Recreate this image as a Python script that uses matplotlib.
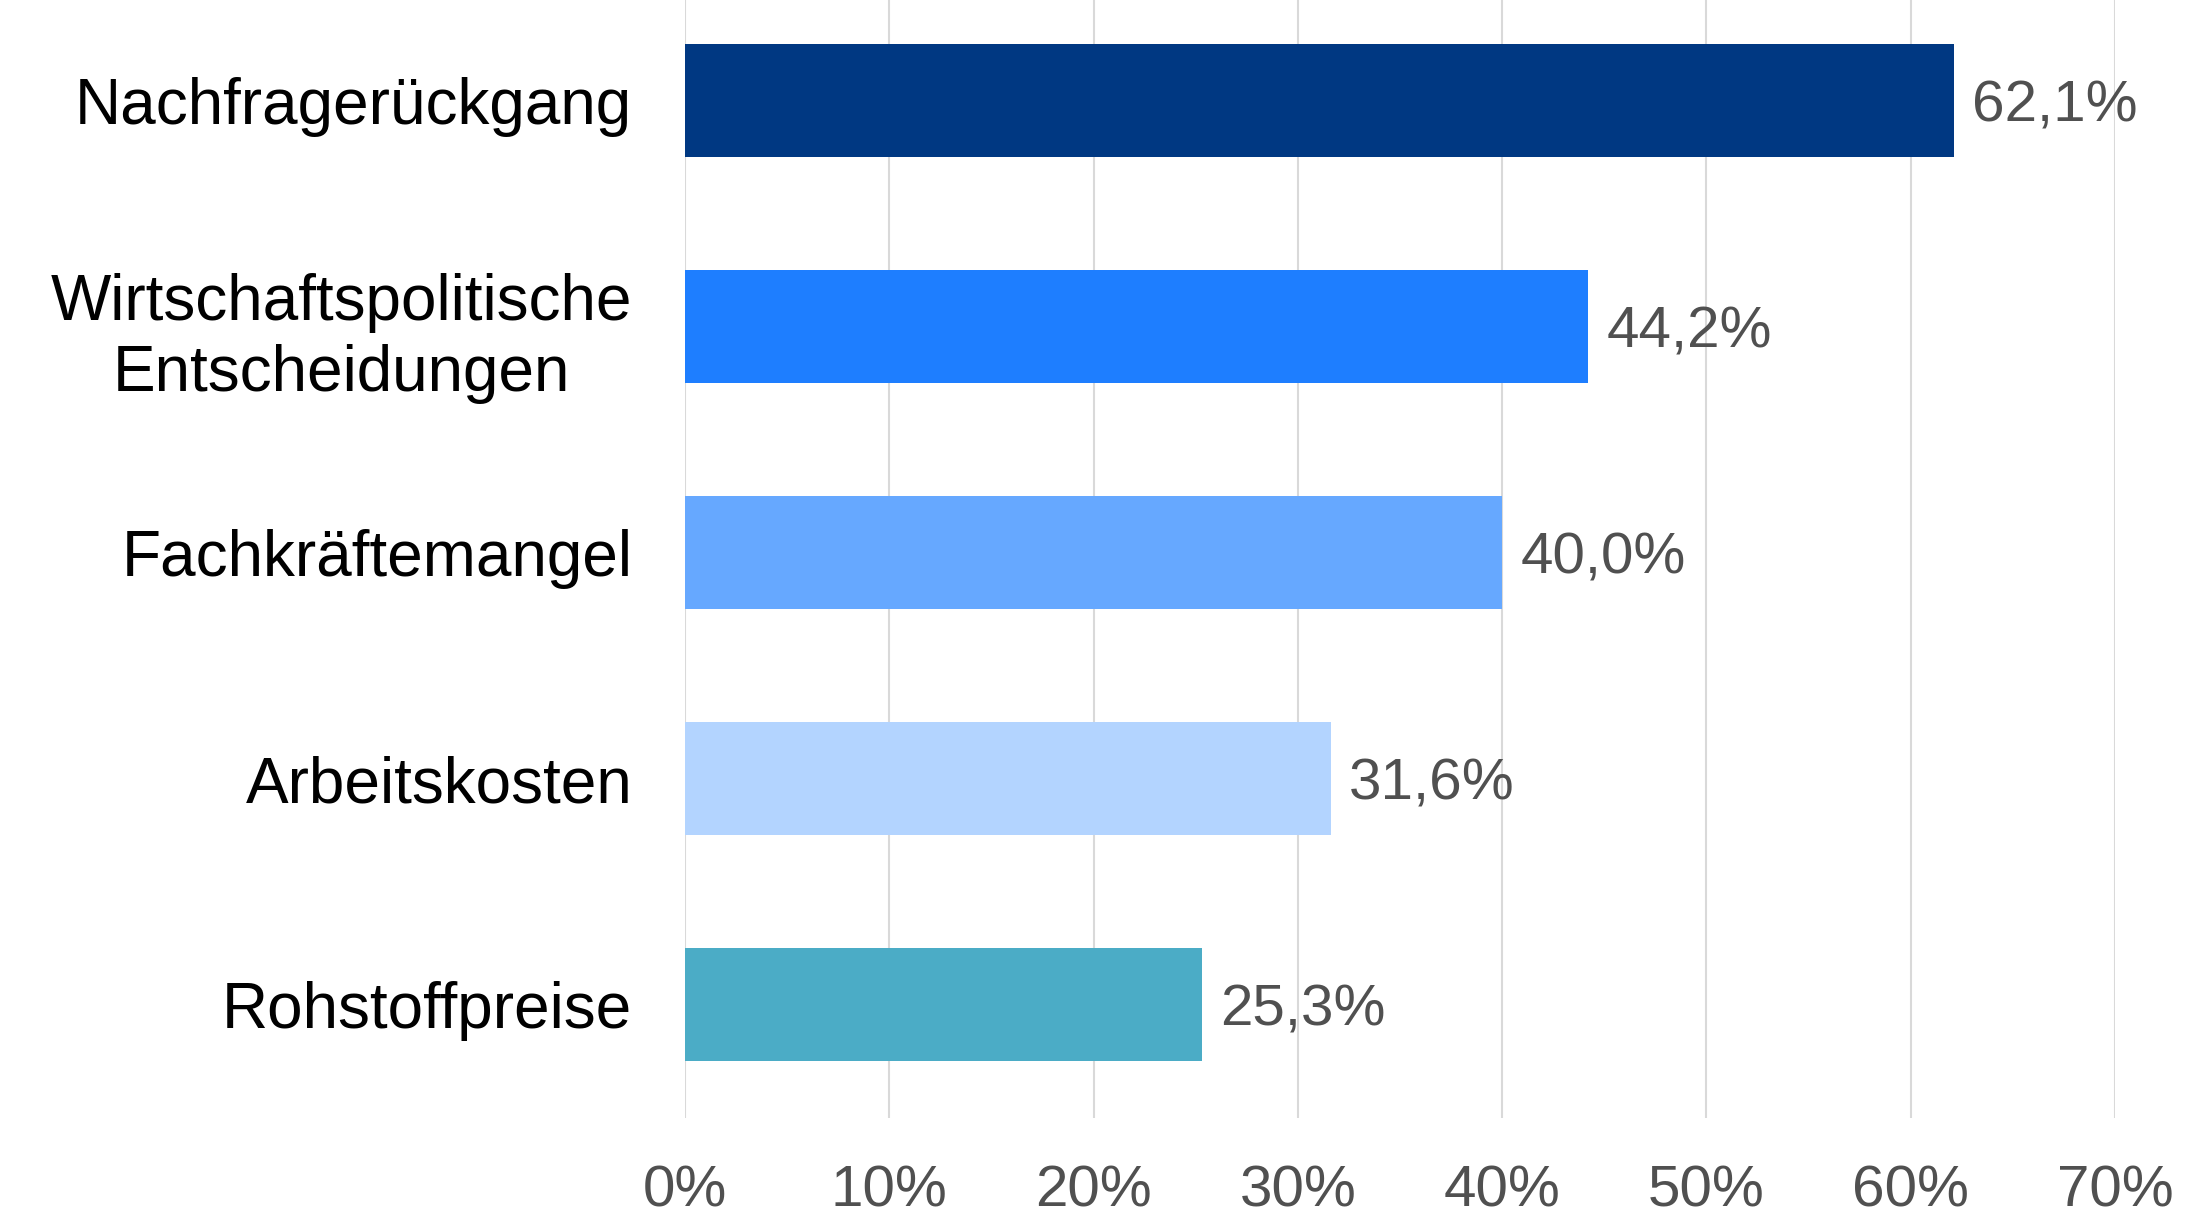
import matplotlib
matplotlib.use("Agg")
import matplotlib.pyplot as plt
from matplotlib.ticker import FuncFormatter

categories = [
    "Nachfragerückgang",
    "Wirtschaftspolitische\nEntscheidungen",
    "Fachkräftemangel",
    "Arbeitskosten",
    "Rohstoffpreise",
]
values = [62.1, 44.2, 40.0, 31.6, 25.3]
colors = ["#003882", "#1E7EFF", "#66A8FF", "#B3D4FF", "#4BACC6"]
xticks = [0, 10, 20, 30, 40, 50, 60, 70]

plt.rcParams['font.family'] = ['Liberation Sans', 'DejaVu Sans']

fig = plt.figure(figsize=(21.93, 12.18), dpi=100)
ax = fig.add_axes([0.3124, 0.0825, 0.652, 0.9275])

ypos = list(range(len(categories)))
ax.barh(ypos, values, height=0.5, color=colors, zorder=2)

for y, v in zip(ypos, values):
    ax.text(v + 0.9, y, f"{v:.1f}%".replace(".", ","), va="center_baseline",
            ha="left", fontsize=42, color="#505050")

ax.set_ylim(4.5, -0.5)
ax.set_xlim(0, 70)
ax.set_yticks(ypos)
ax.set_yticklabels(categories, fontsize=46, color="black", linespacing=1.22,
                   multialignment="center")
ax.set_xticks(xticks)
ax.xaxis.set_major_formatter(FuncFormatter(lambda x, p: f"{x:.0f}%"))
ax.tick_params(axis="x", labelsize=42, labelcolor="#505050", length=0, pad=34)
ax.tick_params(axis="y", length=0, pad=38)

ax.grid(True, axis="x", color="#D9D9D9", linewidth=1.5, zorder=0)
ax.set_axisbelow(True)
for s in ax.spines.values():
    s.set_visible(False)

fig.savefig("out.png", dpi=100)
